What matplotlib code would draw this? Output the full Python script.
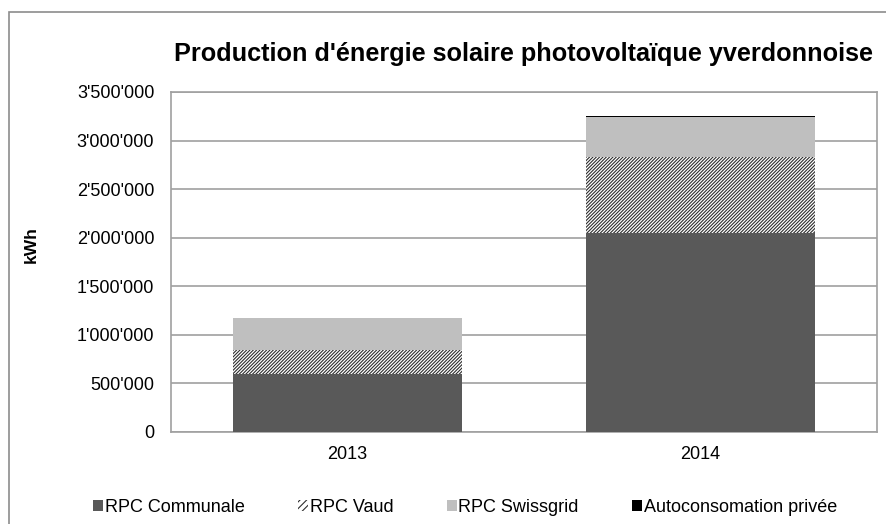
import matplotlib
matplotlib.use("Agg")
import matplotlib.pyplot as plt
from matplotlib.ticker import FuncFormatter, MultipleLocator
from matplotlib.patches import Rectangle, Patch
import numpy as np

plt.rcParams['font.family'] = ['Liberation Sans', 'DejaVu Sans']
plt.rcParams['hatch.linewidth'] = 0.8

# données (kWh)
years = ['2013', '2014']
rpc_communale = [600000, 2045000]
rpc_vaud = [240000, 782000]
rpc_swissgrid = [334000, 412000]
autoconsommation = [0, 10000]

series_names = ['RPC Communale', 'RPC Vaud', 'RPC Swissgrid', 'Autoconsomation privée']

HATCH = '/' * 10

fig = plt.figure(figsize=(8.87, 5.24), dpi=100)
ax = fig.add_axes([171 / 887, 1 - 432 / 524, (877 - 171) / 887, (432 - 92) / 524])

x = np.arange(len(years))
w = 0.646
bottom = np.zeros(len(years))

ax.bar(x, rpc_communale, w, bottom=bottom, color='#595959', linewidth=0, zorder=3)
bottom += rpc_communale
ax.bar(x, rpc_vaud, w, bottom=bottom, color='white', edgecolor='#2e2e2e',
       hatch=HATCH, linewidth=0, zorder=3)
bottom += rpc_vaud
ax.bar(x, rpc_swissgrid, w, bottom=bottom, color='#bfbfbf', linewidth=0, zorder=3)
bottom += rpc_swissgrid
ax.bar(x, autoconsommation, w, bottom=bottom, color='black', linewidth=0, zorder=3)

ax.set_xlim(-0.5, 1.5)
ax.set_ylim(0, 3500000)
ax.yaxis.set_major_locator(MultipleLocator(500000))
ax.yaxis.set_major_formatter(FuncFormatter(lambda v, p: f"{int(v):,}".replace(",", "'")))
ax.set_xticks(x)
ax.set_xticklabels(years)
ax.tick_params(axis='both', length=0, labelsize=13, colors='black')
ax.tick_params(axis='y', pad=12)
ax.tick_params(axis='x', pad=10)

ax.grid(axis='y', color='#a0a0a0', linewidth=1.2, zorder=0)
for s in ax.spines.values():
    s.set_color('#a0a0a0')
    s.set_linewidth(1.2)

fig.text(524 / 887, 1 - 54 / 524, "Production d'énergie solaire photovoltaïque yverdonnoise",
         ha='center', va='center', fontsize=18.2, fontweight='bold')
fig.text(31 / 887, 1 - 245 / 524, 'kWh', rotation=90, ha='center', va='center',
         fontsize=12.5, fontweight='bold')

handles = [
    Patch(facecolor='#595959', linewidth=0),
    Patch(facecolor='white', edgecolor='#2e2e2e', hatch='/' * 5, linewidth=0),
    Patch(facecolor='#bfbfbf', linewidth=0),
    Patch(facecolor='black', linewidth=0),
]
fig.legend(handles, series_names, loc='center', bbox_to_anchor=(465 / 887, 1 - 507 / 524),
           ncol=4, frameon=False, fontsize=13, handlelength=0.55, handleheight=0.55,
           handletextpad=0.1, columnspacing=2.95)

# cadre du graphique
fig.patches.append(Rectangle((9 / 887, -0.1), 1.2, 1 - 12 / 524 + 0.1,
                             transform=fig.transFigure, fill=False,
                             edgecolor='#8c8c8c', linewidth=1.2))

fig.savefig('out.png', dpi=100)
